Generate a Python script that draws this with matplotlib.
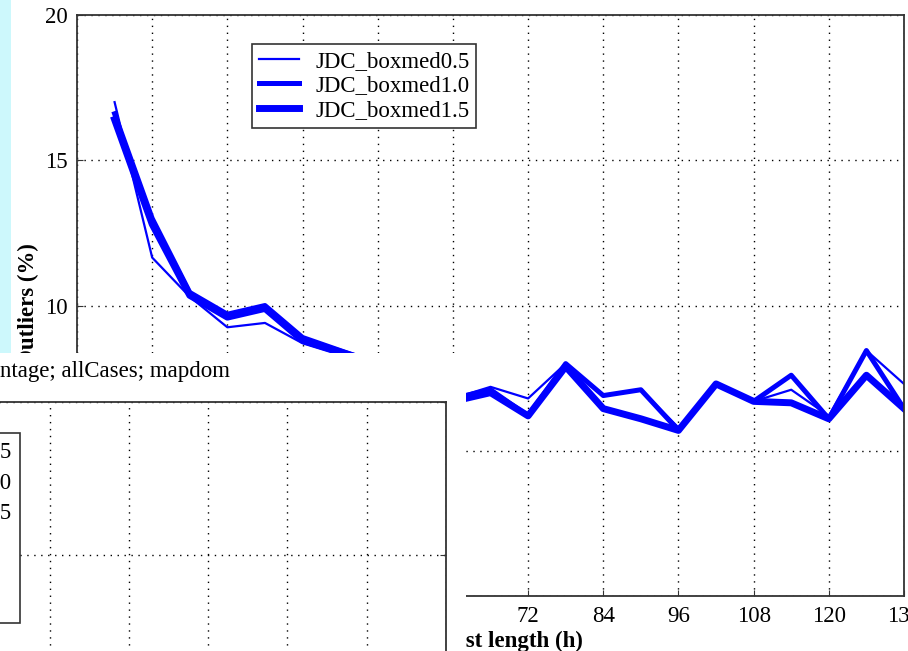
import matplotlib.pyplot as plt
from matplotlib.lines import Line2D

plt.rcParams['font.family'] = ['Liberation Serif', 'DejaVu Serif']

# forecast length (h)
hours = [6, 12, 18, 24, 30, 36, 42, 48, 54, 60, 66,
         72, 78, 84, 90, 96, 102, 108, 114, 120, 126, 132]

# outliers (%) per series
boxmed05 = [17.0, 11.65, 10.3, 9.25, 9.4, 8.7, 8.3, 7.9, 7.5, 6.8, 7.2,
            6.8, 8.0, 6.9, 7.1, 5.8, 7.3, 6.7, 7.1, 6.2, 8.45, 7.3]
boxmed10 = [16.6, 13.0, 10.45, 9.7, 10.0, 8.9, 8.45, 8.0, 7.6, 6.8, 7.1,
            6.2, 8.0, 6.9, 7.1, 5.7, 7.3, 6.7, 7.6, 6.1, 8.45, 6.45]
boxmed15 = [16.4, 12.8, 10.35, 9.6, 9.9, 8.8, 8.4, 8.0, 7.5, 6.7, 7.0,
            6.2, 7.9, 6.45, 6.1, 5.7, 7.3, 6.7, 6.65, 6.1, 7.6, 6.45]

labels = ['JDC_boxmed0.5', 'JDC_boxmed1.0', 'JDC_boxmed1.5']
widths = [1.6, 3.6, 5.0]

xticks = [0, 12, 24, 36, 48, 60, 72, 84, 96, 108, 120, 132]
yticks = [0, 5, 10, 15, 20]

FS = 16.5
W, H = 908, 651
fig = plt.figure(figsize=(W / 100, H / 100), dpi=100)
fig.patch.set_facecolor('white')


def fx(px):
    return px / W


def fy(py):
    return 1 - py / H


grid_style = dict(color='black', linestyle=(0, (1, 4)), linewidth=1.0)

# main (background) chart
ax = fig.add_axes([fx(77), fy(596), fx(904) - fx(77), fy(15) - fy(596)])
ax.set_zorder(1)
for vals, lab, lw in zip([boxmed05, boxmed10, boxmed15], labels, widths):
    ax.plot(hours, vals, color='#0000ff', linewidth=lw, label=lab)
ax.set_xlim(0, 132)
ax.set_ylim(0, 20)
ax.set_xticks(xticks)
ax.set_yticks(yticks)
ax.grid(True, **grid_style)
ax.tick_params(direction='in', length=4, labelsize=FS, pad=7, color='#333333')
for s in ax.spines.values():
    s.set_color('#333333')
    s.set_linewidth(1.3)
ax.set_xlabel('Forecast length (h)', fontsize=FS, fontweight='bold', labelpad=3)
ax.set_ylabel('Outliers (%)', fontsize=FS, fontweight='bold', labelpad=4)
leg = ax.legend(loc='upper left', bbox_to_anchor=(fx(252), fy(44)),
                bbox_transform=fig.transFigure, borderaxespad=0, fontsize=FS,
                handlelength=1.75, handletextpad=0.7, labelspacing=0.15,
                borderpad=0.3, fancybox=False, framealpha=1)
leg.get_frame().set_edgecolor('#333333')
leg.get_frame().set_linewidth(1.2)

# light cyan strip at the left border
strip = fig.add_axes([0, fy(353), fx(11), 1 - fy(353)])
strip.set_facecolor('#cdf8fc')
strip.set_xticks([])
strip.set_yticks([])
for s in strip.spines.values():
    s.set_visible(False)
strip.set_zorder(2)

# front window covering the lower-left part
cover = fig.add_axes([0, 0, fx(466), fy(353)])
cover.set_facecolor('white')
cover.set_xticks([])
cover.set_yticks([])
for s in cover.spines.values():
    s.set_visible(False)
cover.set_zorder(3)
cover.text(0.0, fy(372) / fy(353), 'ntage; allCases; mapdom', fontsize=FS,
           ha='left', va='center', transform=cover.transAxes)

front = fig.add_axes([fx(-426), fy(1014), fx(446) - fx(-426), fy(402) - fy(1014)])
front.set_zorder(4)
front.set_xlim(0, 132)
front.set_ylim(0, 20)
front.set_xticks(xticks)
front.set_yticks(yticks)
front.grid(True, **grid_style)
front.tick_params(direction='in', length=4, labelsize=FS, color='#333333',
                  right=True)
for s in front.spines.values():
    s.set_color('#333333')
    s.set_linewidth(1.3)
handles = [Line2D([], [], color='#0000ff', linewidth=lw) for lw in widths]
handles += [Line2D([], [], color='none') for _ in range(3)]
flabels = labels + [' ', ' ', ' ']
fleg = front.legend(handles, flabels, loc='upper right',
                    bbox_to_anchor=(fx(20), fy(433)),
                    bbox_transform=fig.transFigure, borderaxespad=0,
                    fontsize=FS, handlelength=1.7, handletextpad=0.65,
                    labelspacing=0.42, borderpad=0.35, fancybox=False,
                    framealpha=1)
fleg.get_frame().set_edgecolor('#333333')
fleg.get_frame().set_linewidth(1.2)

fig.savefig('out.png', dpi=100)
